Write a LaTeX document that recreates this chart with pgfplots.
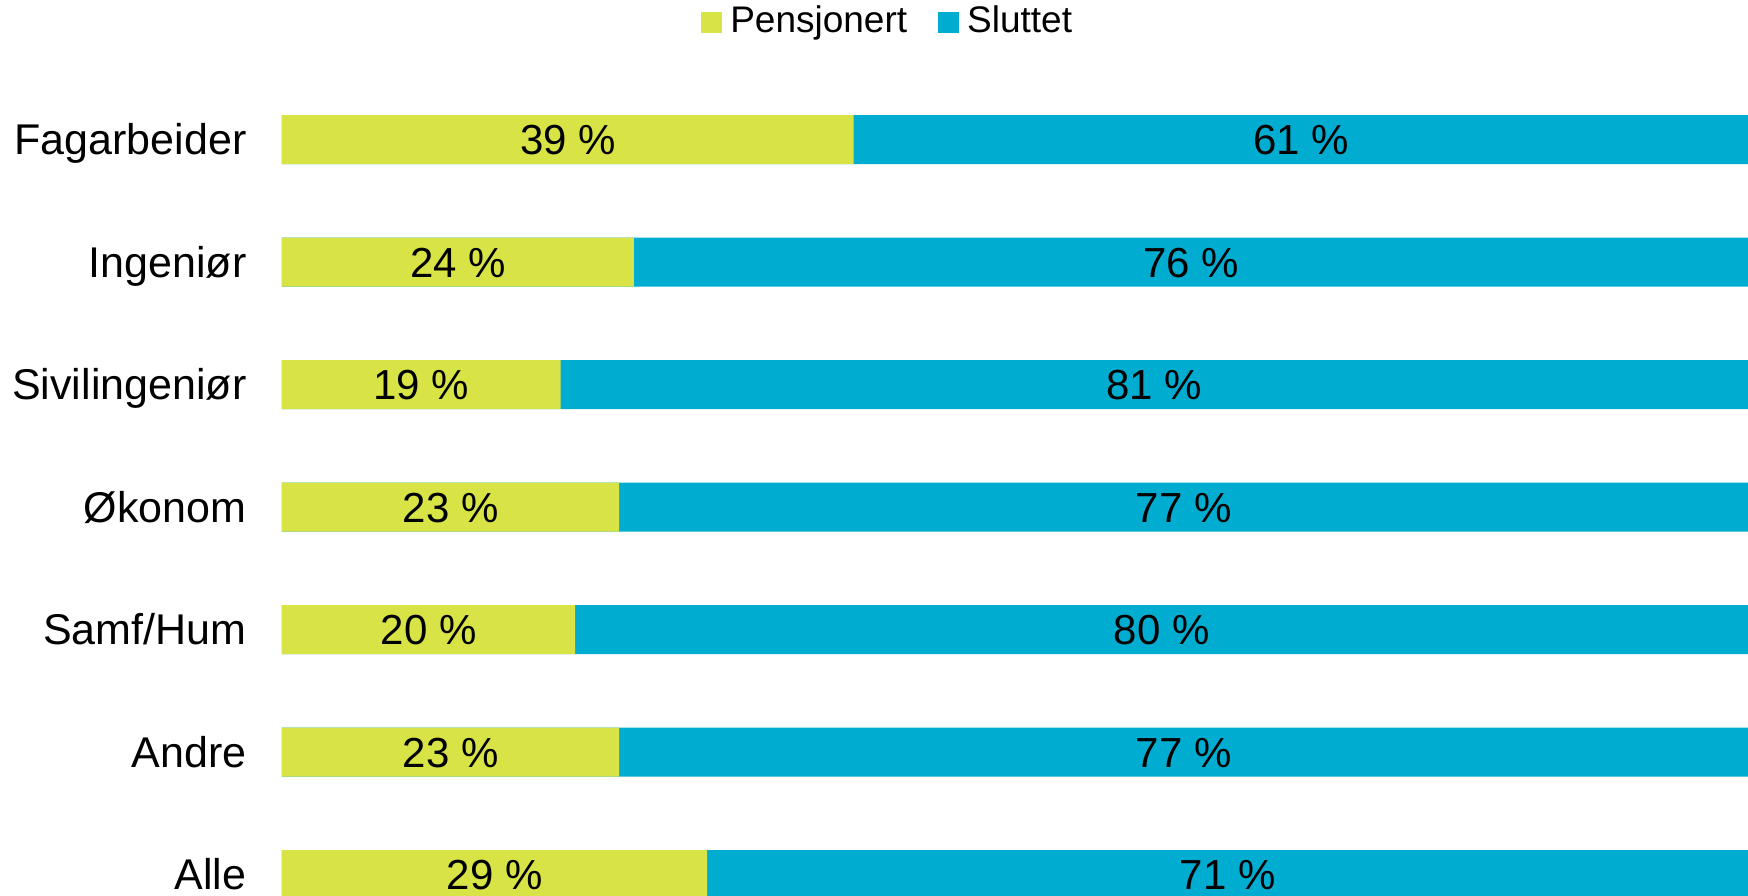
\documentclass[border=0pt]{standalone}
\usepackage{fontspec}
\setmainfont{Liberation Sans}
\usepackage{pgfplots}
\pgfplotsset{compat=1.18}
\usepackage{pgfplotstable}
\definecolor{pens}{HTML}{D8E345}
\definecolor{slut}{HTML}{00ACD0}

% andel pensjonert / sluttet per gruppe (0 = øverst)
\pgfplotstableread{
idx p s
0 39 61
1 24 76
2 19 81
3 23 77
4 20 80
5 23 77
6 29 71
}\andel

\begin{document}
\begin{tikzpicture}
\begin{axis}[
    scale only axis, width=366.5pt, height=223.75pt,
    xmin=0, xmax=100, ymin=-1.139, ymax=6.167, y dir=reverse,
    axis line style={draw=none},
    xtick=\empty, ytick={0,...,6},
    yticklabels={Fagarbeider, Ingeniør, Sivilingeniør, Økonom, Samf/Hum, Andre, Alle},
    major tick length=0pt,
    yticklabel style={font=\fontsize{10.75}{12}\selectfont, inner sep=0pt,
      anchor=base east, xshift=-8.7pt, yshift=-3.85pt},
    /pgf/number format/assume math mode=true,
    legend style={draw=none, fill=none, at={(axis description cs:0.415,0.975)}, anchor=center,
      font=\fontsize{9.25}{11}\selectfont, legend columns=2,
      /tikz/every even column/.append style={column sep=5.6pt}},
    every node near coord/.append style={anchor=base, yshift=-3.75pt,
      font=\fontsize{10.5}{12}\selectfont},
  ]
  \addplot[xbar, bar width=12.25pt, bar shift=0pt, fill=slut, draw=none, forget plot]
    table[x expr=\thisrow{p}+\thisrow{s}, y=idx] {\andel};
  \addplot[xbar, bar width=12.25pt, bar shift=0pt, fill=pens, draw=none, forget plot]
    table[x=p, y=idx] {\andel};
  \addplot[draw=none, mark=none, forget plot, point meta=explicit,
    nodes near coords={\pgfmathprintnumber{\pgfplotspointmeta} \%}]
    table[x expr=\thisrow{p}/2, y=idx, meta=p] {\andel};
  \addplot[draw=none, mark=none, forget plot, point meta=explicit,
    nodes near coords={\pgfmathprintnumber{\pgfplotspointmeta} \%}]
    table[x expr=\thisrow{p}+\thisrow{s}/2, y=idx, meta=s] {\andel};
  \addlegendimage{legend image code/.code={\fill[pens] (0pt,-2.5pt) rectangle (5pt,2.5pt);}}
  \addlegendentry{Pensjonert}
  \addlegendimage{legend image code/.code={\fill[slut] (0pt,-2.5pt) rectangle (5pt,2.5pt);}}
  \addlegendentry{Sluttet}
  \coordinate (bl) at (axis description cs:0,0);
  \coordinate (tr) at (axis description cs:1,1);
\end{axis}
\pgfresetboundingbox
\path ([xshift=-70.5pt]bl) rectangle (tr);
\end{tikzpicture}
\end{document}
